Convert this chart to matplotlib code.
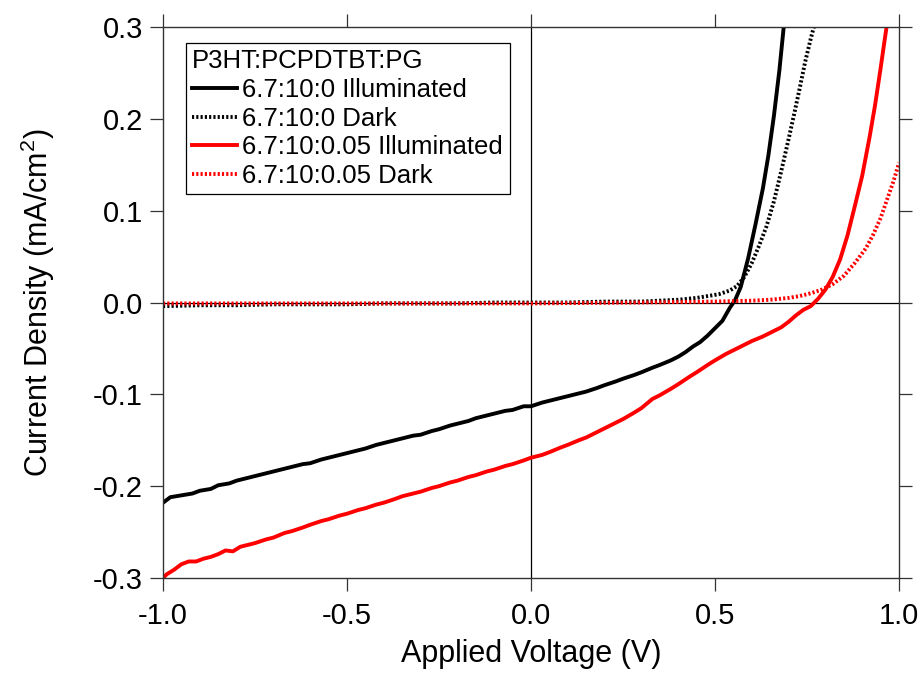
import numpy as np
import matplotlib
matplotlib.use("Agg")
import matplotlib.pyplot as plt

plt.rcParams['font.family'] = ['Liberation Sans', 'DejaVu Sans']
plt.rcParams['mathtext.fontset'] = 'custom'
plt.rcParams['mathtext.rm'] = 'Liberation Sans'
plt.rcParams['mathtext.it'] = 'Liberation Sans'

# 6.7:10:0 illuminated
v_blk_ill = [-1.00, -0.98, -0.95, -0.92, -0.90, -0.87, -0.85, -0.82, -0.80, -0.77,
             -0.75, -0.72, -0.70, -0.67, -0.65, -0.62, -0.60, -0.57, -0.55, -0.52,
             -0.50, -0.47, -0.45, -0.42, -0.40, -0.37, -0.35, -0.32, -0.30, -0.27,
             -0.25, -0.22, -0.20, -0.17, -0.15, -0.12, -0.10, -0.07, -0.05, -0.02,
             0.00, 0.03, 0.05, 0.08, 0.10, 0.13, 0.15, 0.18, 0.20, 0.23,
             0.25, 0.28, 0.30, 0.33, 0.35, 0.38, 0.40, 0.42, 0.44, 0.46,
             0.48, 0.50, 0.52, 0.54, 0.555, 0.57, 0.59, 0.61, 0.63, 0.645,
             0.66, 0.675, 0.688]
j_blk_ill = [-0.218, -0.212, -0.210, -0.208, -0.205, -0.203, -0.199, -0.197, -0.194, -0.191,
             -0.189, -0.186, -0.184, -0.181, -0.179, -0.176, -0.175, -0.171, -0.169, -0.166,
             -0.164, -0.161, -0.159, -0.155, -0.153, -0.150, -0.148, -0.145, -0.144, -0.140,
             -0.138, -0.134, -0.132, -0.129, -0.126, -0.123, -0.121, -0.118, -0.117, -0.113,
             -0.113, -0.109, -0.107, -0.104, -0.102, -0.099, -0.097, -0.093, -0.090, -0.086,
             -0.083, -0.079, -0.076, -0.071, -0.068, -0.063, -0.059, -0.054, -0.048, -0.043,
             -0.036, -0.028, -0.020, -0.006, 0.003, 0.017, 0.048, 0.085, 0.124, 0.160,
             0.203, 0.253, 0.305]

# 6.7:10:0 dark
v_blk_dark = [-1.00, -0.90, -0.80, -0.70, -0.60, -0.50, -0.40, -0.30, -0.20, -0.10,
              0.00, 0.10, 0.20, 0.30, 0.35, 0.40, 0.45, 0.48, 0.51, 0.54,
              0.56, 0.58, 0.60, 0.62, 0.64, 0.66, 0.68, 0.70, 0.715, 0.73,
              0.745, 0.76, 0.772]
j_blk_dark = [-0.004, -0.003, -0.003, -0.002, -0.002, -0.002, -0.001, -0.001, -0.001, 0.000,
              0.000, 0.000, 0.001, 0.001, 0.002, 0.003, 0.005, 0.007, 0.009, 0.013,
              0.018, 0.028, 0.043, 0.062, 0.083, 0.110, 0.143, 0.178, 0.205, 0.233,
              0.262, 0.287, 0.305]

# 6.7:10:0.05 illuminated
v_red_ill = [-1.00, -0.99, -0.97, -0.95, -0.93, -0.91, -0.89, -0.87, -0.85, -0.83,
             -0.81, -0.79, -0.77, -0.75, -0.72, -0.70, -0.67, -0.65, -0.62, -0.60,
             -0.57, -0.55, -0.52, -0.50, -0.47, -0.45, -0.42, -0.40, -0.37, -0.35,
             -0.32, -0.30, -0.27, -0.25, -0.22, -0.20, -0.17, -0.15, -0.12, -0.10,
             -0.07, -0.05, -0.02, 0.00, 0.03, 0.05, 0.08, 0.10, 0.13, 0.15,
             0.18, 0.20, 0.23, 0.25, 0.28, 0.30, 0.33, 0.35, 0.38, 0.40,
             0.43, 0.45, 0.48, 0.50, 0.53, 0.55, 0.58, 0.60, 0.63, 0.65,
             0.68, 0.70, 0.72, 0.74, 0.76, 0.78, 0.80, 0.82, 0.84, 0.86,
             0.88, 0.90, 0.92, 0.935, 0.95, 0.96, 0.968]
j_red_ill = [-0.300, -0.296, -0.291, -0.285, -0.282, -0.282, -0.279, -0.277, -0.274, -0.270,
             -0.271, -0.266, -0.264, -0.262, -0.258, -0.256, -0.251, -0.249, -0.245, -0.242,
             -0.238, -0.236, -0.232, -0.230, -0.226, -0.224, -0.220, -0.218, -0.214, -0.211,
             -0.208, -0.206, -0.202, -0.200, -0.196, -0.194, -0.190, -0.188, -0.184, -0.182,
             -0.178, -0.176, -0.172, -0.169, -0.166, -0.163, -0.158, -0.155, -0.150, -0.147,
             -0.141, -0.137, -0.131, -0.127, -0.120, -0.115, -0.105, -0.101, -0.094, -0.089,
             -0.081, -0.076, -0.068, -0.063, -0.056, -0.052, -0.046, -0.042, -0.037, -0.033,
             -0.027, -0.021, -0.014, -0.008, -0.004, 0.004, 0.014, 0.028, 0.047, 0.073,
             0.105, 0.138, 0.180, 0.215, 0.255, 0.283, 0.305]

# 6.7:10:0.05 dark
v_red_dark = [-1.00, -0.80, -0.60, -0.40, -0.20, 0.00, 0.30, 0.50, 0.60, 0.65,
              0.70, 0.73, 0.76, 0.79, 0.82, 0.85, 0.88, 0.91, 0.93, 0.95,
              0.97, 0.985, 1.00]
j_red_dark = [-0.001, -0.001, -0.001, -0.001, -0.001, -0.001, 0.000, 0.001, 0.002, 0.003,
              0.005, 0.007, 0.010, 0.014, 0.020, 0.029, 0.043, 0.059, 0.074, 0.092,
              0.115, 0.132, 0.152]

fig = plt.figure(figsize=(9.23, 6.75), dpi=100)
ax = fig.add_axes([0.1766, 0.1437, 0.7974, 0.8163])

dot = (0, (0.55, 0.55))
ax.axhline(0, color='black', lw=0.9, zorder=1)
ax.axvline(0, color='black', lw=0.9, zorder=1)
ax.plot(v_blk_ill, j_blk_ill, color='black', lw=2.8, label='6.7:10:0 Illuminated')
ax.plot(v_blk_dark, j_blk_dark, color='black', lw=2.8, linestyle=dot, label='6.7:10:0 Dark')
ax.plot(v_red_ill, j_red_ill, color='red', lw=2.8, label='6.7:10:0.05 Illuminated')
ax.plot(v_red_dark, j_red_dark, color='red', lw=2.8, linestyle=dot, label='6.7:10:0.05 Dark')

ax.set_xlim(-1.0, 1.0)
ax.set_ylim(-0.3, 0.3)
ax.set_xticks([-1.0, -0.5, 0.0, 0.5, 1.0])
ax.set_yticks([-0.3, -0.2, -0.1, 0.0, 0.1, 0.2, 0.3])
ax.xaxis.set_major_formatter(matplotlib.ticker.FormatStrFormatter('%.1f'))
ax.yaxis.set_major_formatter(matplotlib.ticker.FormatStrFormatter('%.1f'))
ax.tick_params(direction='out', length=9.5, width=0.9, labelsize=21, color='#333333',
               top=True, right=True, pad=5)
ax.tick_params(axis='x', pad=8)
for s in ax.spines.values():
    s.set_color('#333333')
    s.set_linewidth(1.0)

ax.set_xlabel('Applied Voltage (V)', fontsize=22, labelpad=6)
ax.set_ylabel('Current Density (mA/cm$^{2}$)', fontsize=22, labelpad=26)

leg = ax.legend(loc='upper left', bbox_to_anchor=(0.031, 0.971), title='P3HT:PCPDTBT:PG',
                fontsize=18.5, title_fontsize=18.5, alignment='left', fancybox=False,
                edgecolor='black', framealpha=1, handlelength=1.75, handletextpad=0.2,
                labelspacing=0.18, borderpad=0.25, borderaxespad=0)
leg.get_frame().set_linewidth(0.9)

plt.savefig('out.png', dpi=100)
